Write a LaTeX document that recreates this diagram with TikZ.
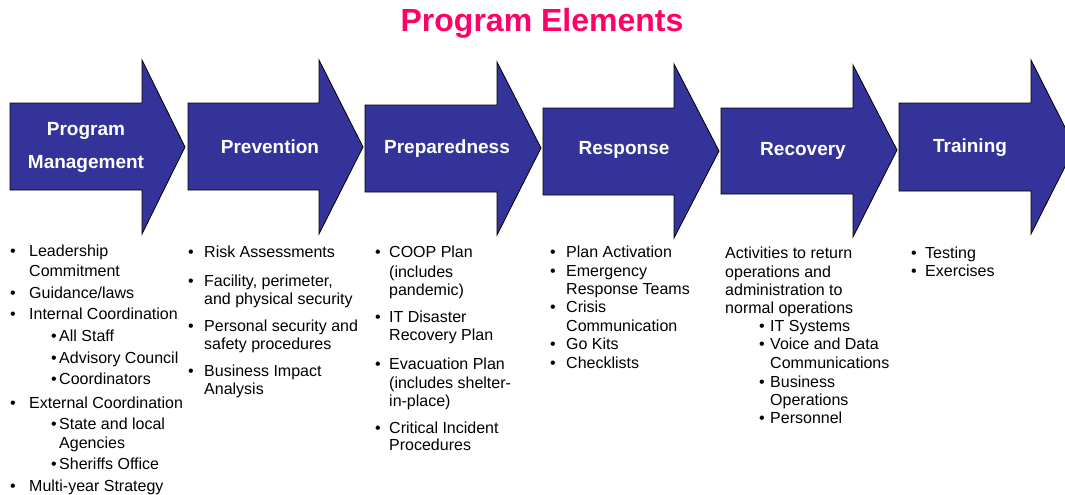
\documentclass[tikz,border=0pt]{standalone}
\usepackage{fontspec}
\setmainfont{Liberation Sans}
\definecolor{arrowblue}{RGB}{51,51,153}
\definecolor{titlepink}{RGB}{255,0,102}
\newcounter{lnc}
\newcommand\bl[4]{\stepcounter{lnc}\node[bul] (b\arabic{lnc}) at (#1,#2) {\textbullet};\node[txt] (t\arabic{lnc}) at (#3,#2) {#4};}
\newcommand\cl[3]{\stepcounter{lnc}\node[txt] (t\arabic{lnc}) at (#1,#2) {#3};}
\newcommand\parrow[8]{\draw[arr] (#1,#2) -- (#4,#2) -- (#4,#5) -- (#7,#8) -- (#4,#6) -- (#4,#3) -- (#1,#3) -- cycle;}
\begin{document}
\begin{tikzpicture}[x=1pt,y=-1pt,
  arr/.style={fill=arrowblue,draw=black,line width=0.8pt,line join=miter},
  lab/.style={anchor=base,inner sep=0pt,text=white,font=\bfseries\fontsize{19}{19}\selectfont},
  txt/.style={anchor=base west,inner sep=0pt,font=\fontsize{16}{18}\selectfont},
  bul/.style={anchor=base,inner sep=0pt,font=\fontsize{16}{18}\selectfont},
  ttl/.style={anchor=base,inner sep=0pt,text=titlepink,font=\bfseries\fontsize{32}{32}\selectfont}]
\useasboundingbox (0,0) rectangle (1065,495);
\fill[white] (0,0) rectangle (1065,495);
\node[ttl] (title) at (542,32) {Program Elements};
% arrows: left, top, bottom, headbase, headtop, headbottom, tipx, tipy
\parrow{10}{103}{190}{142}{60}{234}{185}{147}
\parrow{188}{103}{190}{319}{60}{234}{363}{147}
\parrow{365}{105}{192}{497}{62}{235}{541}{148}
\parrow{543}{108}{195}{674}{64}{238}{719}{151}
\parrow{721}{108}{194}{853}{65}{237}{897}{150}
\parrow{899}{103}{191}{1031}{60}{234}{1075}{147}
\node[lab] (l1a) at (86,135) {Program};
\node[lab] (l1b) at (86,168) {Management};
\node[lab] (l2) at (270,153) {Prevention};
\node[lab] (l3) at (447,153) {Preparedness};
\node[lab] (l4) at (624,154) {Response};
\node[lab] (l5) at (803,155) {Recovery};
\node[lab] (l6) at (970,152) {Training};
% column 1
\bl{13}{256}{29}{Leadership}
\cl{29}{276}{Commitment}
\bl{13}{298}{29}{Guidance/laws}
\bl{13}{319}{29}{Internal Coordination}
\bl{54}{341}{59}{All Staff}
\bl{54}{363}{59}{Advisory Council}
\bl{54}{384}{59}{Coordinators}
\bl{13}{408}{29}{External Coordination}
\bl{54}{429}{59}{State and local}
\cl{59}{448}{Agencies}
\bl{54}{469}{59}{Sheriffs Office}
\bl{13}{491}{29}{Multi-year Strategy}
% column 2
\bl{191}{257}{204}{Risk Assessments}
\bl{191}{286}{204}{Facility, perimeter,}
\cl{204}{304}{and physical security}
\bl{191}{331}{204}{Personal security and}
\cl{204}{349}{safety procedures}
\bl{191}{376}{204}{Business Impact}
\cl{204}{394}{Analysis}
% column 3
\bl{378}{257}{389}{COOP Plan}
\cl{389}{277}{(includes}
\cl{389}{295}{pandemic)}
\bl{378}{322}{389}{IT Disaster}
\cl{389}{340}{Recovery Plan}
\bl{378}{369}{389}{Evacuation Plan}
\cl{389}{388}{(includes shelter-}
\cl{389}{406}{in-place)}
\bl{378}{433}{389}{Critical Incident}
\cl{389}{450}{Procedures}
% column 4
\bl{553}{257}{566}{Plan Activation}
\bl{553}{276}{566}{Emergency}
\cl{566}{294}{Response Teams}
\bl{553}{312}{566}{Crisis}
\cl{566}{331}{Communication}
\bl{553}{349}{566}{Go Kits}
\bl{553}{368}{566}{Checklists}
% column 5
\cl{725}{258}{Activities to return}
\cl{725}{277}{operations and}
\cl{725}{295}{administration to}
\cl{725}{313}{normal operations}
\bl{762}{331}{770}{IT Systems}
\bl{762}{349}{770}{Voice and Data}
\cl{770}{368}{Communications}
\bl{762}{387}{770}{Business}
\cl{770}{405}{Operations}
\bl{762}{423}{770}{Personnel}
% column 6
\bl{914}{258}{925}{Testing}
\bl{914}{276}{925}{Exercises}
\end{tikzpicture}
\end{document}
